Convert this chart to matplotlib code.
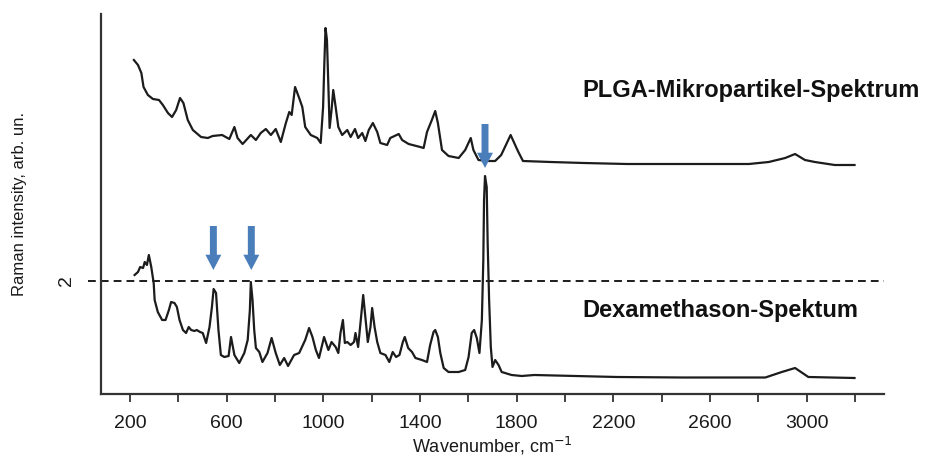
import matplotlib
matplotlib.use("Agg")
import matplotlib.pyplot as plt

plt.rcParams['font.family'] = ['Liberation Sans', 'DejaVu Sans']

# PLGA microparticle spectrum (offset upwards)
wn_plga = [216, 233, 247, 256, 274, 295, 320, 336, 357, 374,
           391, 407, 421, 439, 460, 494, 522, 542, 581, 611,
           632, 645, 666, 700, 721, 741, 762, 783, 803, 824,
           845, 859, 869, 883, 900, 913, 925, 948, 975, 989,
           999, 1004, 1009, 1015, 1021, 1026, 1034, 1041, 1051, 1062,
           1078, 1099, 1113, 1131, 1144, 1161, 1174, 1188, 1205, 1223,
           1236, 1264, 1277, 1312, 1326, 1353, 1401, 1415, 1429, 1449,
           1463, 1474, 1491, 1518, 1560, 1587, 1610, 1621, 1642, 1683,
           1711, 1736, 1775, 1805, 1826, 1941, 2078, 2256, 2488, 2761,
           2843, 2911, 2952, 2993, 3034, 3116, 3198]
int_plga = [4.21, 4.16, 4.08, 3.94, 3.86, 3.82, 3.81, 3.76, 3.68, 3.64,
            3.71, 3.83, 3.78, 3.61, 3.51, 3.44, 3.43, 3.45, 3.46, 3.42,
            3.54, 3.43, 3.37, 3.46, 3.41, 3.48, 3.52, 3.46, 3.52, 3.39,
            3.58, 3.69, 3.66, 3.94, 3.83, 3.74, 3.54, 3.46, 3.43, 3.38,
            3.74, 4.16, 4.53, 4.41, 3.94, 3.53, 3.71, 3.91, 3.74, 3.54,
            3.46, 3.51, 3.44, 3.52, 3.43, 3.48, 3.40, 3.51, 3.58, 3.49,
            3.38, 3.36, 3.43, 3.47, 3.41, 3.37, 3.34, 3.33, 3.49, 3.61,
            3.70, 3.58, 3.31, 3.25, 3.23, 3.31, 3.43, 3.31, 3.21, 3.20,
            3.20, 3.26, 3.46, 3.30, 3.20, 3.19, 3.18, 3.17, 3.17, 3.17,
            3.19, 3.23, 3.27, 3.21, 3.19, 3.16, 3.16]

# Dexamethasone spectrum
wn_dex = [219, 233, 242, 254, 261, 270, 278, 288, 298, 302,
          315, 333, 347, 361, 370, 384, 394, 405, 419, 432,
          443, 453, 467, 476, 490, 501, 515, 529, 539, 546,
          556, 566, 576, 590, 608, 618, 632, 652, 673, 687,
          696, 700, 707, 714, 721, 735, 748, 769, 786, 803,
          820, 838, 854, 879, 900, 925, 941, 955, 969, 982,
          1003, 1021, 1034, 1051, 1062, 1071, 1081, 1089, 1099, 1113,
          1127, 1133, 1144, 1155, 1165, 1174, 1184, 1195, 1202, 1212,
          1223, 1236, 1257, 1273, 1287, 1301, 1315, 1329, 1337, 1351,
          1367, 1381, 1408, 1429, 1442, 1456, 1463, 1474, 1484, 1498,
          1518, 1560, 1587, 1601, 1614, 1624, 1635, 1646, 1656, 1662,
          1665, 1669, 1676, 1680, 1686, 1693, 1700, 1711, 1725, 1738,
          1779, 1821, 1873, 2215, 2488, 2829, 2897, 2952, 3007, 3198]
int_dex = [2.06, 2.09, 2.14, 2.13, 2.19, 2.16, 2.26, 2.14, 1.98, 1.81,
           1.69, 1.61, 1.61, 1.71, 1.79, 1.78, 1.74, 1.61, 1.51, 1.48,
           1.54, 1.51, 1.50, 1.51, 1.49, 1.48, 1.38, 1.54, 1.74, 1.92,
           1.88, 1.51, 1.26, 1.24, 1.25, 1.44, 1.26, 1.18, 1.28, 1.41,
           1.71, 1.99, 1.81, 1.51, 1.33, 1.29, 1.19, 1.28, 1.43, 1.28,
           1.16, 1.23, 1.15, 1.26, 1.28, 1.41, 1.53, 1.44, 1.31, 1.23,
           1.44, 1.31, 1.39, 1.34, 1.28, 1.48, 1.61, 1.38, 1.39, 1.36,
           1.39, 1.48, 1.34, 1.61, 1.86, 1.64, 1.39, 1.54, 1.73, 1.54,
           1.39, 1.28, 1.26, 1.19, 1.29, 1.24, 1.26, 1.39, 1.44, 1.33,
           1.29, 1.23, 1.21, 1.19, 1.36, 1.49, 1.51, 1.44, 1.28, 1.13,
           1.09, 1.09, 1.11, 1.24, 1.48, 1.51, 1.43, 1.28, 1.61, 2.21,
           2.81, 3.05, 2.94, 2.38, 1.81, 1.34, 1.14, 1.21, 1.16, 1.09,
           1.06, 1.05, 1.06, 1.04, 1.035, 1.035, 1.09, 1.13, 1.04, 1.03]

# Marked bands (arrows)
arrow_wn = [545, 702, 1669]
arrow_tip = [2.11, 2.11, 3.13]
arrow_tail = [2.55, 2.55, 3.57]

xtick_vals = list(range(200, 3201, 200))
xtick_labels = ['200', '', '600', '', '1000', '', '1400', '', '1800', '', '2200', '', '2600', '', '3000', '']
ytick_vals = [2]
ytick_labels = ['2']

label_plga = 'PLGA-Mikropartikel-Spektrum'
label_dex = 'Dexamethason-Spektum'

fig = plt.figure(figsize=(9.27, 4.59), dpi=100)
ax = fig.add_axes([101 / 927, 1 - 394 / 459, 783 / 927, 380 / 459])

line_col = '#1c1c1c'
ax.plot(wn_plga, int_plga, color=line_col, lw=1.6)
ax.plot(wn_dex, int_dex, color=line_col, lw=1.6)

ax.axhline(2, xmin=-0.016, xmax=1.0, color=line_col, lw=1.4, ls=(0, (4, 2.6)), clip_on=False)

for xw, yt, ys in zip(arrow_wn, arrow_tip, arrow_tail):
    ax.annotate('', xy=(xw, yt), xytext=(xw, ys),
                arrowprops=dict(arrowstyle='simple,head_length=1.1,head_width=1.15,tail_width=0.5',
                                mutation_scale=10, color='#4a7ebb', shrinkA=0, shrinkB=0, lw=0))

ax.set_xlim(80, 3320)
ax.set_ylim(0.87, 4.67)

for s in ['top', 'right']:
    ax.spines[s].set_visible(False)
for s in ['left', 'bottom']:
    ax.spines[s].set_color('#333333')
    ax.spines[s].set_linewidth(1.6)

ax.set_xticks(xtick_vals)
ax.set_xticklabels(xtick_labels, fontsize=14)
ax.tick_params(axis='x', direction='out', length=6, width=1.3, color='#333333', pad=9,
               labelcolor='#1a1a1a')
ax.set_yticks(ytick_vals)
ax.set_yticklabels(ytick_labels, fontsize=14, rotation=90, va='center')
ax.tick_params(axis='y', length=0, pad=19, labelcolor='#1a1a1a')

ax.set_xlabel('Wavenumber, cm$^{-1}$', fontsize=13, color='#1a1a1a', labelpad=2)
ax.set_ylabel('Raman intensity, arb. un.', fontsize=12, color='#1a1a1a')
ax.yaxis.set_label_coords(-0.094, 0.5)

ax.text(582 / 927, 1 - 90 / 459, label_plga, transform=fig.transFigure, fontsize=17,
        fontweight='bold', ha='left', va='center', color='#111111')
ax.text(582 / 927, 1 - 311 / 459, label_dex, transform=fig.transFigure, fontsize=17,
        fontweight='bold', ha='left', va='center', color='#111111')

fig.savefig('out.png', dpi=100)
